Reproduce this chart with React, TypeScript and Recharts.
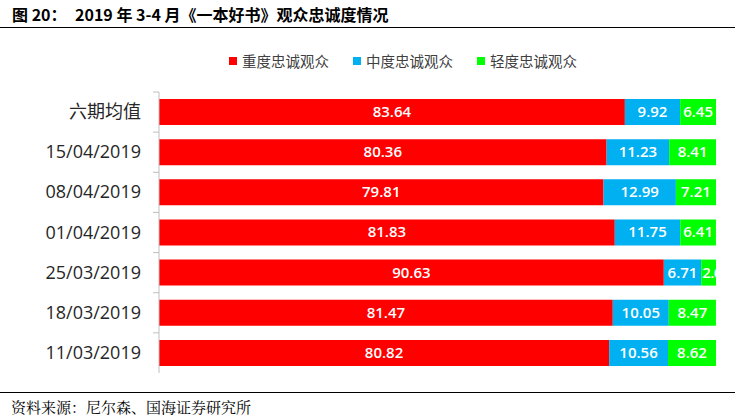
import { Bar, BarChart, LabelList, XAxis, YAxis } from "recharts";

const categories = [
  "六期均值",
  "15/04/2019",
  "08/04/2019",
  "01/04/2019",
  "25/03/2019",
  "18/03/2019",
  "11/03/2019",
];
const heavy = [83.64, 80.36, 79.81, 81.83, 90.63, 81.47, 80.82];
const medium = [9.92, 11.23, 12.99, 11.75, 6.71, 10.05, 10.56];
const light = [6.45, 8.41, 7.21, 6.41, 2.66, 8.47, 8.62];

const SERIES = [
  { key: "heavy", name: "重度忠诚观众", color: "#FF0000" },
  { key: "medium", name: "中度忠诚观众", color: "#00B0F0" },
  { key: "light", name: "轻度忠诚观众", color: "#00FF00" },
];

const data = categories.map((name, i) => ({
  name,
  heavy: heavy[i],
  medium: medium[i],
  light: light[i],
}));

const W = 735;
const H = 418;
const TOP = 92;
const BOTTOM = 45;
const BAND = (H - TOP - BOTTOM) / categories.length;
const CJK = '"Open Sans", "Noto Sans CJK SC", sans-serif';

// category label plus a small tick at the top edge of its band
function CategoryTick(props: any) {
  const { x, y, payload } = props;
  const top = y - BAND / 2;
  return (
    <g>
      <line x1={159 - 6} x2={159} y1={top} y2={top} stroke="#bfbfbf" />
      <text
        x={x}
        y={y}
        dy={6}
        textAnchor="end"
        fontSize={18}
        fill="#262626"
        fontFamily={CJK}
      >
        {payload.value}
      </text>
    </g>
  );
}

// white value label, clipped at the right edge of the bar (like the original)
function ValueLabel(props: any) {
  const { x, y, width, height, value } = props;
  const pad = 60;
  const narrow = width < 30;
  return (
    <svg x={x - pad} y={y} width={width + pad} height={height} overflow="hidden">
      <text
        x={narrow ? pad + 1 : pad + width / 2}
        y={height / 2}
        dy={5}
        textAnchor={narrow ? "start" : "middle"}
        fontSize={15}
        fontWeight={600}
        fill="#fff"
        fontFamily='"Open Sans", sans-serif'
        letterSpacing={narrow ? -0.5 : 0}
      >
        {Number(value).toFixed(2)}
      </text>
    </svg>
  );
}

export default function App() {
  return (
    <div
      style={{
        position: "absolute",
        left: 0,
        top: 0,
        width: W,
        height: H,
        background: "#fff",
        overflow: "hidden",
      }}
    >
      <div
        style={{
          position: "absolute",
          left: 12,
          top: 3,
          fontFamily: '"Noto Sans CJK SC", sans-serif',
          fontWeight: 700,
          fontSize: 16,
          lineHeight: "22px",
          color: "#000",
          whiteSpace: "pre",
        }}
      >
        图 20：
      </div>
      <div
        style={{
          position: "absolute",
          left: 75,
          top: 3,
          fontFamily: '"Noto Sans CJK SC", sans-serif',
          fontWeight: 700,
          fontSize: 16,
          lineHeight: "22px",
          color: "#000",
          whiteSpace: "pre",
        }}
      >
        {"2019 年 3-4 月《一本好书》观众忠诚度情况"}
      </div>
      <div
        style={{
          position: "absolute",
          left: 0,
          top: 27,
          width: W,
          borderTop: "1.5px solid #000",
        }}
      />

      {/* legend */}
      <div
        style={{
          position: "absolute",
          left: 229,
          top: 50,
          display: "flex",
          gap: 24,
          fontFamily: '"Noto Sans CJK SC", sans-serif',
          fontSize: 14.5,
          color: "#404040",
        }}
      >
        {SERIES.map((s) => (
          <div key={s.key} style={{ display: "flex", alignItems: "center" }}>
            <span
              style={{
                display: "inline-block",
                width: 8,
                height: 8,
                background: s.color,
                marginRight: 5,
              }}
            />
            {s.name}
          </div>
        ))}
      </div>

      <div style={{ position: "absolute", left: 0, top: 0 }}>
        <BarChart
          width={W}
          height={H}
          data={data}
          layout="vertical"
          margin={{ top: TOP, right: 19, bottom: BOTTOM, left: 0 }}
          barCategoryGap="17.5%"
        >
          <XAxis type="number" domain={[0, 100]} allowDataOverflow hide />
          <YAxis
            type="category"
            dataKey="name"
            width={159}
            axisLine={{ stroke: "#bfbfbf" }}
            tickLine={false}
            tickMargin={12}
            tick={<CategoryTick />}
            interval={0}
          />
          {SERIES.map((s) => (
            <Bar
              key={s.key}
              dataKey={s.key}
              name={s.name}
              stackId="a"
              fill={s.color}
              isAnimationActive={false}
            >
              <LabelList dataKey={s.key} content={<ValueLabel />} />
            </Bar>
          ))}
        </BarChart>
      </div>

      <div
        style={{
          position: "absolute",
          left: 0,
          top: 392,
          width: W,
          borderTop: "1.5px solid #000",
        }}
      />
      <div
        style={{
          position: "absolute",
          left: 11,
          top: 396,
          fontFamily: '"Noto Serif CJK SC", "Noto Sans CJK SC", serif',
          fontSize: 15,
          color: "#000",
        }}
      >
        资料来源：尼尔森、国海证券研究所
      </div>
    </div>
  );
}
